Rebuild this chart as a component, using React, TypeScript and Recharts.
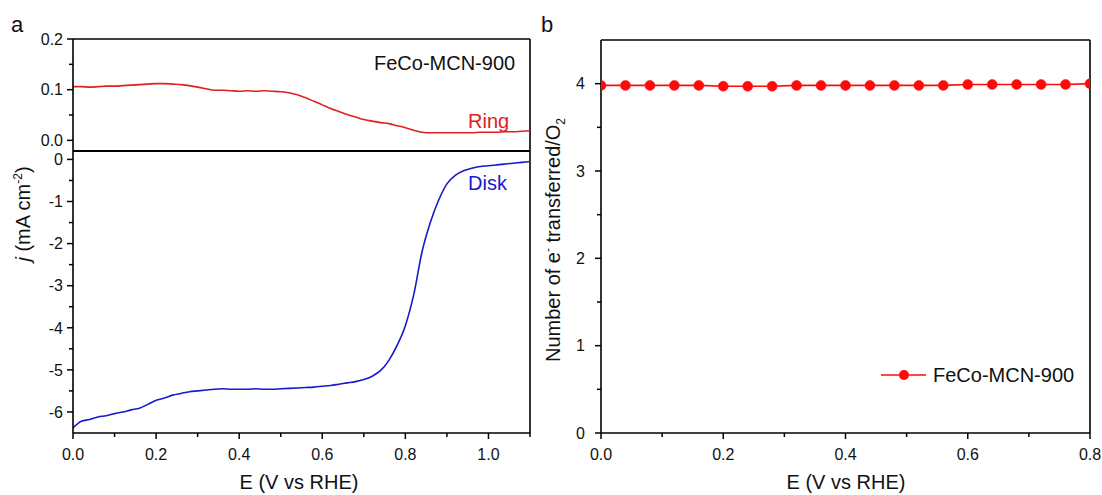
import React from 'react';
import { LineChart, Line, XAxis, YAxis, ReferenceLine } from 'recharts';

const FONT = '"Liberation Sans", Arial, Helvetica, sans-serif';

// Panel a: potential (V vs RHE)
const potentialA = [
  0.0, 0.02, 0.04, 0.06, 0.08, 0.1, 0.12, 0.14, 0.16, 0.18,
  0.2, 0.22, 0.24, 0.26, 0.28, 0.3, 0.32, 0.34, 0.36, 0.38,
  0.4, 0.42, 0.44, 0.46, 0.48, 0.5, 0.52, 0.54, 0.56, 0.58,
  0.6, 0.62, 0.64, 0.66, 0.68, 0.7, 0.72, 0.74, 0.76, 0.78,
  0.8, 0.82, 0.84, 0.86, 0.88, 0.9, 0.92, 0.94, 0.96, 0.98,
  1.0, 1.02, 1.04, 1.06, 1.08, 1.1,
];

const ringCurrent = [
  0.106, 0.106, 0.105, 0.106, 0.107, 0.107, 0.108, 0.109, 0.11, 0.111,
  0.112, 0.112, 0.111, 0.11, 0.108, 0.105, 0.102, 0.099, 0.099, 0.098,
  0.097, 0.098, 0.097, 0.098, 0.097, 0.096, 0.094, 0.09, 0.084, 0.077,
  0.07, 0.063, 0.057, 0.051, 0.046, 0.041, 0.038, 0.035, 0.033, 0.029,
  0.025, 0.02, 0.016, 0.015, 0.015, 0.015, 0.015, 0.015, 0.015, 0.016,
  0.016, 0.016, 0.017, 0.017, 0.018, 0.019,
];

const diskCurrent = [
  -6.38, -6.22, -6.18, -6.12, -6.09, -6.04, -6.0, -5.95, -5.91, -5.82,
  -5.72, -5.67, -5.6, -5.56, -5.52, -5.5, -5.48, -5.46, -5.45, -5.46,
  -5.46, -5.46, -5.45, -5.46, -5.46, -5.45, -5.44, -5.43, -5.42, -5.41,
  -5.39, -5.37, -5.34, -5.31, -5.28, -5.23, -5.15, -5.02, -4.78, -4.42,
  -3.95, -3.22, -2.2, -1.5, -0.97, -0.58, -0.38, -0.27, -0.21, -0.17,
  -0.15, -0.13, -0.11, -0.09, -0.07, -0.05,
];

// Panel b
const potentialB = [
  0.0, 0.04, 0.08, 0.12, 0.16, 0.2, 0.24, 0.28, 0.32, 0.36,
  0.4, 0.44, 0.48, 0.52, 0.56, 0.6, 0.64, 0.68, 0.72, 0.76, 0.8,
];
const electronNumber = [
  3.98, 3.98, 3.98, 3.98, 3.98, 3.97, 3.97, 3.97, 3.98, 3.98,
  3.98, 3.98, 3.98, 3.98, 3.98, 3.99, 3.99, 3.99, 3.99, 3.99, 4.0,
];

// Ticks
const xTicksA = [0, 0.1, 0.2, 0.3, 0.4, 0.5, 0.6, 0.7, 0.8, 0.9, 1.0, 1.1];
const xMajorA = [0, 0.2, 0.4, 0.6, 0.8, 1.0];
const ringTicks = [0, 0.05, 0.1, 0.15, 0.2];
const ringMajor = [0, 0.1, 0.2];
const diskTicks = [0, -0.5, -1, -1.5, -2, -2.5, -3, -3.5, -4, -4.5, -5, -5.5, -6];
const diskMajor = [0, -1, -2, -3, -4, -5, -6];
const xTicksB = [0, 0.1, 0.2, 0.3, 0.4, 0.5, 0.6, 0.7, 0.8];
const xMajorB = [0, 0.2, 0.4, 0.6, 0.8];
const yTicksB = [0, 0.5, 1, 1.5, 2, 2.5, 3, 3.5, 4];
const yMajorB = [0, 1, 2, 3, 4];

const dataA = potentialA.map((E, i) => ({ E, ring: ringCurrent[i], disk: diskCurrent[i] }));
const dataB = potentialB.map((E, i) => ({ E, n: electronNumber[i] }));

const RED = '#e02020';
const BLUE = '#1818cc';
const MARK = '#ff0a0a';

const isIn = (list: number[], v: number) => list.some((m) => Math.abs(m - v) < 1e-6);

const makeLeftTick = (majors: number[], fmt: (v: number) => string, gap: number) => (props: any) => {
  const { x, y, payload } = props;
  const v = payload.value;
  const major = isIn(majors, v);
  const len = major ? 6 : 4;
  return (
    <g>
      <line x1={x - len} x2={x} y1={y} y2={y} stroke="#000" strokeWidth={1.5} />
      {major && (
        <text x={x - gap} y={y} dy="0.36em" textAnchor="end" fontSize={16} fontFamily={FONT} fill="#111">
          {fmt(v)}
        </text>
      )}
    </g>
  );
};

const makeBottomTick = (majors: number[], fmt: (v: number) => string) => (props: any) => {
  const { x, y, payload } = props;
  const v = payload.value;
  const major = isIn(majors, v);
  const len = major ? 6 : 4;
  return (
    <g>
      <line x1={x} x2={x} y1={y} y2={y + len} stroke="#000" strokeWidth={1.5} />
      {major && (
        <text x={x} y={y + 27} textAnchor="middle" fontSize={16} fontFamily={FONT} fill="#111">
          {fmt(v)}
        </text>
      )}
    </g>
  );
};

const axisStyle = { stroke: '#000', strokeWidth: 1.6 };

export default function App() {
  return (
    <div style={{ position: 'absolute', left: 0, top: 0, width: 1102, height: 495, background: '#fff', fontFamily: FONT }}>
      {/* Panel a, top: ring current */}
      <div style={{ position: 'absolute', left: 0, top: 0 }}>
        <LineChart width={540} height={151} data={dataA} margin={{ top: 39, right: 10, bottom: 0, left: 0 }}>
          <XAxis dataKey="E" type="number" domain={[0, 1.1]} hide allowDataOverflow />
          <YAxis
            type="number"
            domain={[-0.021, 0.2]}
            allowDataOverflow
            width={73}
            ticks={ringTicks}
            interval={0}
            tickSize={0}
            tickMargin={0}
            tickLine={false}
            axisLine={axisStyle}
            tick={makeLeftTick(ringMajor, (v) => v.toFixed(1), 10)}
          />
          <ReferenceLine y={0.2} stroke="#000" strokeWidth={1.6} />
          <ReferenceLine x={1.1} stroke="#000" strokeWidth={1.6} />
          <Line type="monotone" dataKey="ring" stroke={RED} strokeWidth={1.6} dot={false} isAnimationActive={false} />
        </LineChart>
      </div>

      {/* Panel a, bottom: disk current */}
      <div style={{ position: 'absolute', left: 0, top: 141 }}>
        <LineChart width={540} height={354} data={dataA} margin={{ top: 10, right: 10, bottom: 0, left: 0 }}>
          <XAxis
            dataKey="E"
            type="number"
            domain={[0, 1.1]}
            allowDataOverflow
            height={62}
            ticks={xTicksA}
            interval={0}
            tickSize={0}
            tickMargin={0}
            tickLine={false}
            axisLine={axisStyle}
            tick={makeBottomTick(xMajorA, (v) => v.toFixed(1))}
          />
          <YAxis
            type="number"
            domain={[-6.5, 0.2]}
            allowDataOverflow
            width={73}
            ticks={diskTicks}
            interval={0}
            tickSize={0}
            tickMargin={0}
            tickLine={false}
            axisLine={axisStyle}
            tick={makeLeftTick(diskMajor, (v) => String(v), 10)}
          />
          <ReferenceLine y={0.2} stroke="#000" strokeWidth={1.8} />
          <ReferenceLine x={1.1} stroke="#000" strokeWidth={1.6} />
          <Line type="monotone" dataKey="disk" stroke={BLUE} strokeWidth={1.6} dot={false} isAnimationActive={false} />
        </LineChart>
      </div>

      {/* Panel b */}
      <div style={{ position: 'absolute', left: 540, top: 0 }}>
        <LineChart width={562} height={495} data={dataB} margin={{ top: 40, right: 12, bottom: 0, left: 0 }}>
          <XAxis
            dataKey="E"
            type="number"
            domain={[0, 0.8]}
            allowDataOverflow
            height={62}
            ticks={xTicksB}
            interval={0}
            tickSize={0}
            tickMargin={0}
            tickLine={false}
            axisLine={axisStyle}
            tick={makeBottomTick(xMajorB, (v) => v.toFixed(1))}
          />
          <YAxis
            type="number"
            domain={[0, 4.5]}
            allowDataOverflow
            width={61}
            ticks={yTicksB}
            interval={0}
            tickSize={0}
            tickMargin={0}
            tickLine={false}
            axisLine={axisStyle}
            tick={makeLeftTick(yMajorB, (v) => String(v), 16)}
          />
          <ReferenceLine y={4.5} stroke="#000" strokeWidth={1.6} />
          <ReferenceLine x={0.8} stroke="#000" strokeWidth={1.6} />
          <Line
            type="linear"
            dataKey="n"
            stroke={MARK}
            strokeWidth={1.6}
            dot={{ r: 5, fill: MARK, stroke: MARK, strokeWidth: 0.5 }}
            isAnimationActive={false}
          />
        </LineChart>
      </div>

      {/* Text overlay: panel labels, axis titles, annotations, legend */}
      <svg width={1102} height={495} style={{ position: 'absolute', left: 0, top: 0, pointerEvents: 'none' }} fontFamily={FONT}>
        <text x={11} y={32} fontSize={22} fill="#111">a</text>
        <text x={541} y={32} fontSize={22} fill="#111">b</text>

        <text x={299} y={489} fontSize={20} textAnchor="middle" fill="#111">E (V vs RHE)</text>
        <text x={846} y={489} fontSize={20} textAnchor="middle" fill="#111">E (V vs RHE)</text>

        <text transform="translate(30,214) rotate(-90)" fontSize={20} textAnchor="middle" fill="#111">
          <tspan fontStyle="italic">j</tspan>
          <tspan> (mA cm</tspan>
          <tspan fontSize={12} dy={-8}>-2</tspan>
          <tspan dy={8}>)</tspan>
        </text>

        <text transform="translate(560,240) rotate(-90)" fontSize={20} textAnchor="middle" fill="#111">
          <tspan>Number of e</tspan>
          <tspan fontSize={12} dy={-8}>-</tspan>
          <tspan dy={8}> transferred/O</tspan>
          <tspan fontSize={12} dy={5}>2</tspan>
        </text>

        <text x={374} y={70} fontSize={20} fill="#111">FeCo-MCN-900</text>
        <text x={468} y={128} fontSize={20} fill={RED}>Ring</text>
        <text x={468} y={190} fontSize={20} fill={BLUE}>Disk</text>

        <line x1={881} x2={926} y1={375} y2={375} stroke={MARK} strokeWidth={1.6} />
        <circle cx={904} cy={375} r={5} fill={MARK} />
        <text x={933} y={382} fontSize={20} fill="#111">FeCo-MCN-900</text>
      </svg>
    </div>
  );
}
